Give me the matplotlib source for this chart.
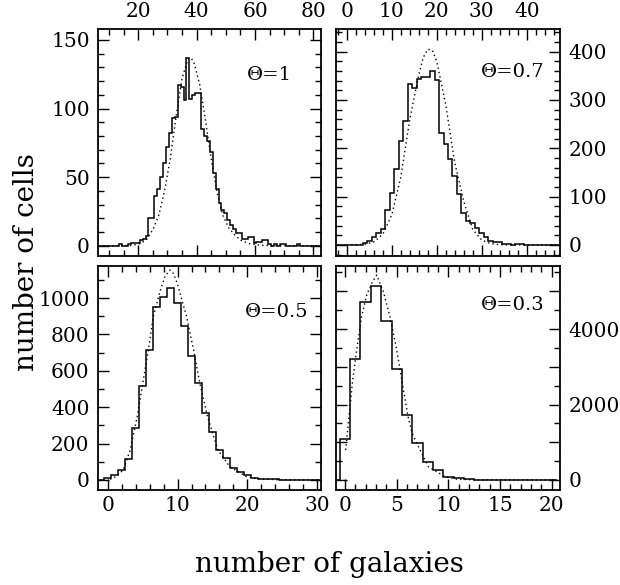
import numpy as np
import matplotlib
matplotlib.use("Agg")
import matplotlib.pyplot as plt
from matplotlib.ticker import MultipleLocator, FuncFormatter

# ---------------- data ----------------
# Theta = 1 : bins of width 1 centred on integers
tl_centers = list(range(6, 85))
tl_counts = [0, 0, 0, 0, 0, 0, 0, 0, 1, 0, 0, 1, 2, 2, 2, 4, 5, 7, 20, 20,
             36, 41, 50, 60, 72, 82, 93, 94, 117, 116, 106, 137, 107, 110, 111, 111, 85, 80, 76, 68,
             53, 41, 31, 26, 24, 19, 15, 12, 9, 9, 5, 5, 6, 6, 2, 3, 3, 4, 4, 1,
             0, 1, 0, 1, 1, 0, 0, 0, 0, 1, 0, 0, 0, 0, 0, 0, 0, 0, 0]
tl_model_x = [8, 14, 18, 21, 23, 25, 27, 29, 31, 33, 35, 37, 38, 39, 41, 43, 45, 47, 49, 51, 53, 55, 58, 62, 66, 84]
tl_model_y = [0, 0, 0.3, 1.8, 4.9, 11.7, 22, 40, 64, 95, 122, 136, 137, 134, 118, 92, 63, 39, 22, 13, 8, 4, 1.5, 0.3, 0, 0]

# Theta = 0.7
tr_centers = list(range(-2, 48))
tr_counts = [0, 0, 0, 0, 0, 0, 3, 9, 16, 24, 32, 72, 108, 158, 215, 257, 333, 324, 343, 348,
             348, 360, 341, 231, 209, 177, 142, 105, 67, 50, 46, 34, 24, 16, 9, 5, 5, 2, 1, 0,
             1, 2, 0, 0, 0, 0, 0, 0, 0, 0]
tr_model_x = [0, 2, 4, 6, 8, 10, 12, 14, 16, 17, 18, 19, 20, 22, 24, 26, 28, 30, 32, 34, 36, 40, 47]
tr_model_y = [0, 0.3, 1.5, 6, 22, 62, 140, 260, 352, 388, 405, 403, 380, 290, 170, 90, 32, 10, 2.7, 0.5, 0.1, 0, 0]

# Theta = 0.5
bl_centers = list(range(-1, 31))
bl_counts = [0, 10, 30, 55, 114, 284, 516, 714, 949, 1007, 1053, 971, 846, 681, 535, 366,
             266, 165, 119, 64, 46, 26, 9, 5, 4, 3, 2, 1, 1, 1, 1, 0]
bl_model_x = [0.3, 1.2, 2.2, 3.2, 4.2, 5.0, 5.8, 6.5, 7.5, 8.2, 8.9, 9.4, 9.95, 11.3, 12.3, 13.2,
              14.3, 15.8, 17.5, 19.9, 22, 25, 30.5]
bl_model_y = [4, 20, 55, 165, 348, 531, 714, 897, 1040, 1120, 1154, 1135, 1081, 897, 714, 531,
              348, 165, 73, 18, 5, 1, 0]

# Theta = 0.3
br_centers = list(range(-1, 21))
br_counts = [0, 1077, 3196, 4707, 5139, 4221, 2940, 1722, 989, 468, 265, 88, 40, 15, 5, 2,
             0, 0, 0, 0, 0, 0]
br_model_x = [0.06, 0.39, 0.71, 1.13, 1.61, 2.1, 2.58, 3.06, 3.7, 4.35, 5.0, 5.55, 6.1, 6.5,
              7.26, 8.07, 9.68, 10.9, 13, 20.5]
br_model_y = [795, 1678, 2561, 3452, 4333, 4900, 5210, 5430, 5000, 4333, 3452, 2561, 1678, 1236,
              795, 353, 88, 18, 2, 0]

labels = ["\u0398=1", "\u0398=0.7", "\u0398=0.5", "\u0398=0.3"]

# ---------------- figure ----------------
plt.rcParams['font.family'] = ['DejaVu Serif']
fig = plt.figure(figsize=(6.2, 5.85), dpi=100)

W, H = 620.0, 585.0
def rect(l, t, r, b):
    return [l / W, 1 - b / H, (r - l) / W, (b - t) / H]

ax_tl = fig.add_axes(rect(98, 29, 321, 256))
ax_tr = fig.add_axes(rect(336, 29, 560, 256))
ax_bl = fig.add_axes(rect(98, 266, 321, 490))
ax_br = fig.add_axes(rect(336, 266, 560, 490))

panels = [
    (ax_tl, tl_centers, tl_counts, tl_model_x, tl_model_y, (6.2, 82.6), (-7.5, 158),
     20, 5, 50, 10, 'top', 'left', labels[0], (0.668, 0.797)),
    (ax_tr, tr_centers, tr_counts, tr_model_x, tr_model_y, (-2.4, 47.4), (-23, 447),
     10, 2, 100, 20, 'top', 'right', labels[1], (0.645, 0.81)),
    (ax_bl, bl_centers, bl_counts, bl_model_x, bl_model_y, (-1.43, 30.6), (-55, 1176),
     10, 2, 200, 100, 'bottom', 'left', labels[2], (0.66, 0.795)),
    (ax_br, br_centers, br_counts, br_model_x, br_model_y, (-0.87, 20.8), (-265, 5670),
     5, 1, 1000, 500, 'bottom', 'right', labels[3], (0.645, 0.826)),
]

for (ax, cen, cnt, mx, my, xl, yl, xmaj, xmin, ymaj, ymin, xside, yside, lab, lpos) in panels:
    cen = np.asarray(cen, dtype=float)
    edges = np.concatenate([cen - 0.5, [cen[-1] + 0.5]])
    ax.stairs(cnt, edges, color='black', lw=1.1, baseline=None)
    ax.plot(mx, my, color='black', lw=1.0, linestyle=(0, (1, 2.2)))
    ax.set_xlim(*xl)
    ax.set_ylim(*yl)
    ax.xaxis.set_major_locator(MultipleLocator(xmaj))
    ax.xaxis.set_minor_locator(MultipleLocator(xmin))
    ax.yaxis.set_major_locator(MultipleLocator(ymaj))
    ax.yaxis.set_minor_locator(MultipleLocator(ymin))
    ax.tick_params(which='both', direction='in', top=True, bottom=True, left=True, right=True,
                   labeltop=(xside == 'top'), labelbottom=(xside == 'bottom'),
                   labelleft=(yside == 'left'), labelright=(yside == 'right'),
                   labelsize=14.5, width=1.0, color='black')
    ax.tick_params(which='major', length=8, pad=6)
    ax.tick_params(which='minor', length=4)
    for s in ax.spines.values():
        s.set_linewidth(1.3)
    ax.text(lpos[0], lpos[1], lab, transform=ax.transAxes, fontsize=14,
            ha='left', va='center')

ax_br.yaxis.set_major_formatter(FuncFormatter(lambda v, p: '%d' % v if int(round(v)) % 2000 == 0 else ''))
ax_bl.tick_params(axis='x', pad=4)
ax_br.tick_params(axis='x', pad=4)

fig.text(27 / W, 1 - 262 / H, "number of cells", rotation=90, ha='center', va='center', fontsize=20)
fig.text(329 / W, 1 - 565 / H, "number of galaxies", ha='center', va='center', fontsize=20)

fig.savefig("out.png", dpi=100)
